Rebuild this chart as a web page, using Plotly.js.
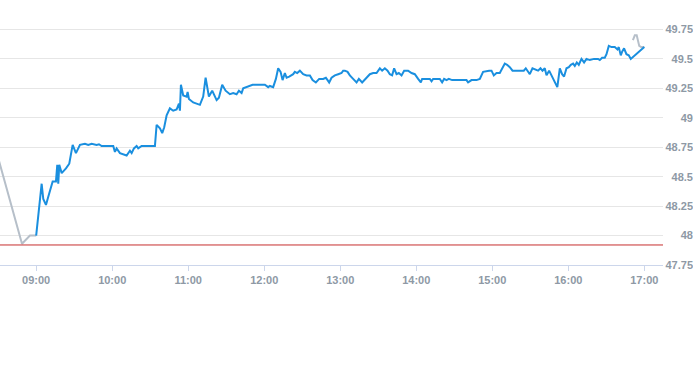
<!DOCTYPE html>
<html>
<head>
<meta charset="utf-8">
<script src="https://cdn.plot.ly/plotly-3.0.1.min.js"></script>
<style>html,body{margin:0;padding:0;background:#fff;}#chart{width:693px;height:365px;}</style>
</head>
<body>
<div id="chart"></div>
<script>
const tradeDay = '2024-05-10 ';
const prevClose = 47.92;

const preTimes = ['08:30:00', '08:48:48', '08:55:06', '09:00:00'];
const preValues = [48.66, 47.93, 48.00, 48.00];

const sessionTimes = [
  '09:00:00','09:04:20','09:05:36','09:07:44','09:09:33','09:13:01','09:15:37','09:16:39','09:17:26','09:18:14',
  '09:20:07','09:23:31','09:26:07','09:28:48','09:31:24','09:34:34','09:38:30','09:41:07','09:43:47','09:47:44',
  '09:49:33','09:51:41','10:00:50','10:02:10','10:03:31','10:06:07','10:11:24','10:14:00','10:15:21','10:17:10',
  '10:19:17','10:20:33','10:23:14','10:33:44','10:35:04','10:37:41','10:39:29','10:41:04','10:42:58','10:45:34',
  '10:48:10','10:50:51','10:52:40','10:53:28','10:54:15','10:56:04','10:58:44','10:59:32','11:00:34','11:03:57',
  '11:09:14','11:11:50','11:13:44','11:15:19','11:16:20','11:18:56','11:22:25','11:24:14','11:26:50','11:29:31',
  '11:32:55','11:35:31','11:38:11','11:40:01','11:42:08','11:43:24','11:46:05','11:50:49','12:00:31','12:03:08',
  '12:04:28','12:07:04','12:09:12','12:11:01','12:12:55','12:14:29','12:16:18','12:17:39','12:19:42','12:22:51',
  '12:24:11','12:26:01','12:28:08','12:30:44','12:33:25','12:36:02','12:38:10','12:40:46','12:43:22','12:46:31',
  '12:48:39','12:51:15','12:53:09','12:55:45','12:58:22','13:01:02','13:02:18','13:03:38','13:05:46','13:07:35',
  '13:10:11','13:12:52','13:14:41','13:17:17','13:20:46','13:23:22','13:25:58','13:28:39','13:31:16','13:33:04',
  '13:35:12','13:37:20','13:39:09','13:40:58','13:42:32','13:44:26','13:46:15','13:48:23','13:50:26','13:53:35',
  '13:56:16','13:58:52','14:01:29','14:03:37','14:04:38','14:10:43','14:12:03','14:13:19','14:18:36','14:20:25',
  '14:21:59','14:23:53','14:25:42','14:28:18','14:39:40','14:40:55','14:43:36','14:47:33','14:50:10','14:52:46',
  '14:57:30','14:59:23','15:01:12','15:03:20','15:05:56','15:08:04','15:09:53','15:11:42','15:13:50','15:15:58',
  '15:24:52','15:26:27','15:28:16','15:29:37','15:31:44','15:34:20','15:36:09','15:38:03','15:39:38','15:41:26',
  '15:42:49','15:44:52','15:46:45','15:48:34','15:51:20','15:53:18','15:55:07','15:56:41','15:58:35','16:00:24',
  '16:01:59','16:03:47','16:05:08','16:06:43','16:08:17','16:10:25','16:12:28','16:14:22','16:16:58','16:20:22',
  '16:23:31','16:24:52','16:26:40','16:28:48','16:30:09','16:31:58','16:34:05','16:36:41','16:38:49','16:39:51',
  '16:41:25','16:42:26','16:44:01','16:45:54','16:47:43','16:49:18','17:00:00'
];
const sessionValues = [
  48.00,48.44,48.31,48.26,48.33,48.46,48.46,48.60,48.44,48.60,
  48.53,48.57,48.61,48.77,48.70,48.77,48.78,48.77,48.78,48.77,
  48.775,48.76,48.76,48.71,48.74,48.70,48.68,48.72,48.70,48.74,
  48.76,48.74,48.76,48.76,48.94,48.91,48.87,48.92,49.02,49.08,
  49.06,49.07,49.12,49.06,49.28,49.19,49.18,49.22,49.16,49.13,
  49.11,49.18,49.34,49.26,49.18,49.23,49.15,49.17,49.28,49.23,
  49.20,49.21,49.20,49.23,49.21,49.25,49.26,49.28,49.28,49.26,
  49.27,49.26,49.33,49.42,49.39,49.32,49.38,49.34,49.35,49.37,
  49.39,49.38,49.40,49.37,49.36,49.36,49.32,49.30,49.33,49.33,
  49.34,49.30,49.34,49.36,49.37,49.38,49.40,49.40,49.39,49.36,
  49.33,49.30,49.33,49.30,49.34,49.37,49.38,49.38,49.42,49.40,
  49.42,49.40,49.37,49.36,49.42,49.37,49.38,49.36,49.40,49.40,
  49.38,49.37,49.33,49.30,49.33,49.33,49.31,49.33,49.33,49.30,
  49.33,49.32,49.33,49.32,49.32,49.30,49.32,49.32,49.33,49.39,
  49.40,49.40,49.36,49.38,49.38,49.42,49.46,49.45,49.43,49.40,
  49.40,49.42,49.39,49.37,49.42,49.41,49.40,49.42,49.40,49.42,
  49.36,49.40,49.36,49.32,49.26,49.42,49.37,49.35,49.42,49.43,
  49.45,49.46,49.44,49.47,49.45,49.50,49.47,49.50,49.49,49.50,
  49.50,49.49,49.51,49.51,49.54,49.61,49.60,49.60,49.58,49.60,
  49.53,49.56,49.59,49.54,49.53,49.50,49.60
];

const postTimes = ['16:51:00', '16:52:30', '16:54:00', '16:55:00', '16:56:00', '16:57:30', '17:00:00'];
const postValues = [49.66, 49.70, 49.70, 49.66, 49.61, 49.60, 49.60];

const yTickValues = [47.75, 48, 48.25, 48.5, 48.75, 49, 49.25, 49.5, 49.75];
const yTickLabels = ['47.75', '48', '48.25', '48.5', '48.75', '49', '49.25', '49.5', '49.75'];

const stamp = t => tradeDay + t;
const labelFont = {family: 'Liberation Sans, Arial, sans-serif', size: 11, color: '#8e99a5', weight: 'bold'};

const traces = [
  {x: preTimes.map(stamp), y: preValues, type: 'scatter', mode: 'lines', yaxis: 'y',
   line: {color: '#b6bfc9', width: 2}, hoverinfo: 'skip'},
  {x: postTimes.map(stamp), y: postValues, type: 'scatter', mode: 'lines', yaxis: 'y',
   line: {color: '#b6bfc9', width: 2}, hoverinfo: 'skip'},
  {x: sessionTimes.map(stamp), y: sessionValues, type: 'scatter', mode: 'lines', yaxis: 'y2',
   line: {color: '#1a8fdf', width: 2}}
];

const layout = {
  width: 693, height: 365,
  margin: {l: 0, r: 0, t: 0, b: 100},
  paper_bgcolor: '#ffffff', plot_bgcolor: '#ffffff',
  showlegend: false,
  xaxis: {
    domain: [0, 663 / 693],
    type: 'date',
    range: [stamp('08:31:27'), stamp('17:14:45')],
    tickformat: '%H:%M', dtick: 3600000, tick0: stamp('09:00:00'),
    ticks: 'outside', ticklen: 5, tickcolor: '#ccd6eb', tickwidth: 1,
    showline: true, linecolor: '#ccd6eb', linewidth: 1,
    showgrid: false, zeroline: false,
    tickfont: labelFont
  },
  yaxis: {
    range: [47.75, 50], tickmode: 'array', tickvals: yTickValues,
    showticklabels: false, ticks: '',
    gridcolor: '#e6e6e6', gridwidth: 1, zeroline: false, showline: false
  },
  yaxis2: {
    overlaying: 'y', anchor: 'free', position: 1, side: 'left',
    range: [47.75, 50], tickmode: 'array', tickvals: yTickValues, ticktext: yTickLabels,
    showgrid: false, zeroline: false, showline: false, ticks: '',
    tickfont: labelFont
  },
  shapes: [
    {type: 'line', xref: 'x domain', x0: 0, x1: 1, yref: 'y', y0: prevClose, y1: prevClose,
     line: {color: '#c62f2f', width: 1}}
  ]
};

Plotly.newPlot('chart', traces, layout, {staticPlot: true, displayModeBar: false});
</script>
</body>
</html>
